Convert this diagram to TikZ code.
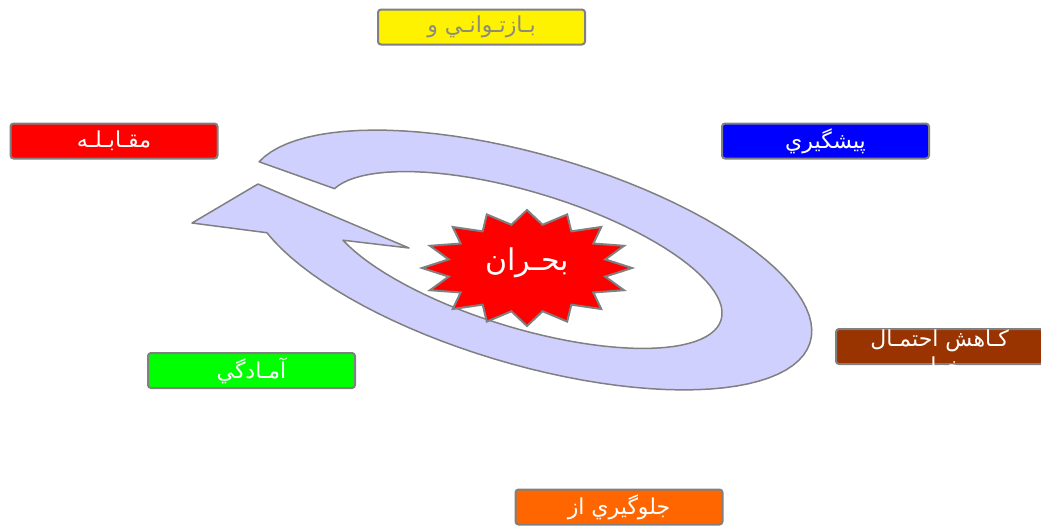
\documentclass[tikz,border=0pt]{standalone}
\usepackage{fontspec}
\newfontfamily\farsi[Script=Arabic]{DejaVu Sans}
\TeXXeTstate=1
\definecolor{bandfill}{RGB}{208,208,255}
\definecolor{boxbrown}{RGB}{153,51,0}
\definecolor{boxorange}{RGB}{255,102,0}
\definecolor{boxgreen}{RGB}{0,255,0}
\definecolor{textgray}{RGB}{140,140,120}
\begin{document}
\begin{tikzpicture}[x=0.5pt,y=-0.5pt,
  every node/.style={font=\farsi\fontsize{11}{13}\selectfont,text=white},
  phase/.style={draw=gray,line width=1pt,rounded corners=1.5pt,minimum width=103.5pt,minimum height=17.5pt,inner sep=0pt},
  band/.style={draw=gray,fill=bandfill,line width=0.75pt,line join=round}]
\useasboundingbox (0,0) rectangle (1041,526);
% cycle arrow: outer and inner tilted ellipses
\draw[band] plot[domain=190:513,samples=90,variable=\t]
    ({530+292*cos(\t)*0.9598-105*sin(\t)*0.2807},{260+292*cos(\t)*0.2807+105*sin(\t)*0.9598})
  -- (192,223) -- (258,184) -- (409,248)
  -- plot[domain=-150.3:168.8,samples=90,variable=\t]
    ({524+206*cos(-\t)*0.9568-68*sin(-\t)*0.2907},{260+206*cos(-\t)*0.2907+68*sin(-\t)*0.9568})
  -- cycle;
% crisis star
\draw[draw=gray,fill=red,line width=1pt,line join=miter]
  (632,268) \foreach \k [evaluate=\k as \r using {mod(\k,2)==0 ? 1 : 0.76}] in {1,...,31} {
    -- ({527+105*\r*cos(\k*11.25)},{268-58*\r*sin(\k*11.25)})} -- cycle;
\node[font=\farsi\fontsize{15}{18}\selectfont] (crisis) at (527,263) {\beginR بحـران\endR};
% phases
\node[phase,fill=yellow,text=textgray] (p1) at (481.5,27) {\beginR بـازتـوانـي و\endR};
\node[phase,fill=red] (p2) at (114,141) {\beginR مقـابـلـه\endR};
\node[phase,fill=blue] (p3) at (825.5,141) {\beginR پيشگيري\endR};
\node[phase,fill=boxgreen] (p5) at (251.5,370.5) {\beginR آمـادگي\endR};
\node[phase,fill=boxorange] (p6) at (619,507) {\beginR جلوگيري از\endR};
\node[phase,fill=boxbrown] (p4) at (939.5,346.5) {};
\begin{scope}
\clip[rounded corners=1.5pt] (p4.south west) rectangle (p4.north east);
\node (p4a) at (939.5,341) {\beginR كـاهش احتمـال\endR};
\node (p4b) at (939.5,368) {\beginR خطر\endR};
\end{scope}
\end{tikzpicture}
\end{document}
